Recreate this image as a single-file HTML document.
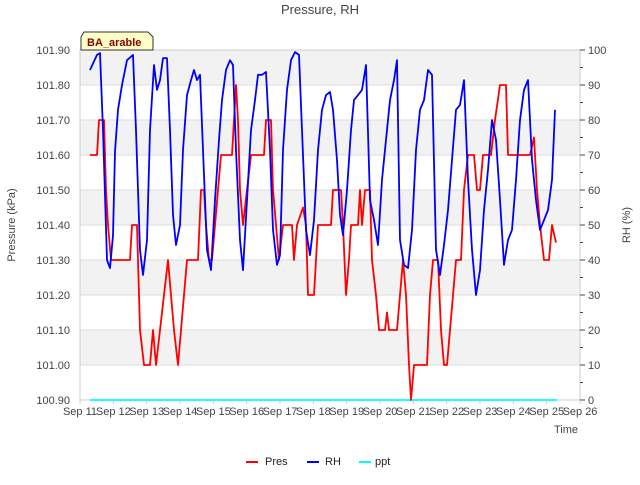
<!DOCTYPE html>
<html><head><meta charset="utf-8"><style>
body{margin:0;background:#fff;font-family:"Liberation Sans","DejaVu Sans",sans-serif}
</style></head><body>
<svg width="640" height="480" viewBox="0 0 640 480" xmlns="http://www.w3.org/2000/svg" font-family="Liberation Sans, DejaVu Sans, sans-serif">
<rect width="640" height="480" fill="#fff"/>
<text x="320" y="14" text-anchor="middle" font-size="13" fill="#444">Pressure, RH</text>
<g id="bands"></g>
<g id="grid"></g>
<rect x="80" y="50" width="500" height="350" fill="none" stroke="#ccc"/>
<g id="axes" font-size="11" fill="#444"></g>
<g id="series"></g>
<text x="15" y="225" transform="rotate(-90 15 225)" text-anchor="middle" font-size="11" fill="#444">Pressure (kPa)</text>
<text x="630" y="225" transform="rotate(-90 630 225)" text-anchor="middle" font-size="11" fill="#444">RH (%)</text>
<text x="578" y="433" text-anchor="end" font-size="11" fill="#444">Time</text>
<g>
<path d="M84,32 L148,32 L153,37 L153,50 L81,50 L81,37 Z" fill="#ffffc8" stroke="#333"/>
<text x="87" y="46" font-size="11" font-weight="bold" fill="#8b0000">BA_arable</text>
</g>
<g font-size="11" fill="#222">
<g><line x1="246" y1="462" x2="258" y2="462" stroke="red" stroke-width="2"/><text x="265" y="465">Pres</text></g>
<g><line x1="307" y1="462" x2="319" y2="462" stroke="blue" stroke-width="2"/><text x="325" y="465">RH</text></g>
<g><line x1="359" y1="462" x2="371" y2="462" stroke="cyan" stroke-width="2"/><text x="375" y="465">ppt</text></g>
</g>
</svg>
<script>
const presDays=[11.30,11.51,11.57,11.72,11.78,11.84,11.93,12.50,12.56,12.71,12.80,12.92,13.10,13.19,13.28,13.40,13.52,13.64,13.73,13.82,13.94,14.03,14.12,14.21,14.54,14.63,14.72,14.78,14.87,14.96,15.05,15.14,15.23,15.56,15.62,15.68,15.74,15.80,15.89,16.01,16.13,16.52,16.58,16.73,16.79,16.88,16.97,17.09,17.36,17.42,17.51,17.69,17.78,17.84,18.02,18.14,18.53,18.59,18.83,18.89,18.98,19.07,19.13,19.34,19.40,19.46,19.55,19.70,19.76,19.88,19.97,20.15,20.21,20.27,20.51,20.60,20.69,20.78,20.87,20.93,21.02,21.41,21.50,21.59,21.74,21.83,21.92,22.01,22.10,22.19,22.28,22.43,22.52,22.64,22.82,22.91,23.00,23.09,23.33,23.45,23.60,23.78,23.84,24.50,24.62,24.71,24.80,24.92,25.07,25.16,25.28];
const presVals=[101.6,101.6,101.7,101.7,101.5,101.4,101.3,101.3,101.4,101.4,101.1,101.0,101.0,101.1,101.0,101.1,101.2,101.3,101.2,101.1,101.0,101.1,101.2,101.3,101.3,101.5,101.5,101.4,101.3,101.3,101.4,101.5,101.6,101.6,101.7,101.8,101.7,101.5,101.4,101.5,101.6,101.6,101.7,101.7,101.5,101.4,101.3,101.4,101.4,101.3,101.4,101.45,101.4,101.2,101.2,101.4,101.4,101.5,101.5,101.4,101.2,101.3,101.4,101.4,101.5,101.4,101.5,101.5,101.3,101.2,101.1,101.1,101.15,101.1,101.1,101.2,101.3,101.2,101.0,100.9,101.0,101.0,101.2,101.3,101.3,101.1,101.0,101.0,101.1,101.2,101.3,101.3,101.5,101.6,101.6,101.5,101.5,101.6,101.6,101.7,101.8,101.8,101.6,101.6,101.65,101.5,101.4,101.3,101.3,101.4,101.35];
const rhDays=[11.30,11.51,11.60,11.69,11.81,11.90,11.99,12.05,12.14,12.26,12.41,12.59,12.68,12.80,12.89,13.01,13.10,13.22,13.31,13.40,13.49,13.61,13.70,13.79,13.88,14.00,14.09,14.21,14.33,14.42,14.51,14.60,14.69,14.81,14.93,15.05,15.17,15.26,15.38,15.50,15.59,15.68,15.80,15.89,16.01,16.13,16.25,16.34,16.46,16.58,16.70,16.79,16.91,17.00,17.09,17.21,17.33,17.45,17.57,17.66,17.78,17.90,18.02,18.14,18.26,18.38,18.50,18.59,18.71,18.80,18.89,19.01,19.13,19.22,19.34,19.46,19.58,19.70,19.82,19.94,20.06,20.18,20.30,20.42,20.51,20.60,20.72,20.84,20.96,21.08,21.20,21.32,21.44,21.56,21.68,21.80,21.92,22.04,22.16,22.28,22.40,22.52,22.64,22.76,22.88,23.00,23.12,23.24,23.36,23.48,23.60,23.72,23.84,23.96,24.08,24.20,24.32,24.44,24.56,24.68,24.80,24.92,25.04,25.16,25.25];
const rhVals=[94.3,98.6,99.1,77.1,40,37.7,47,71,82.9,90,97.1,98.6,77.1,42.9,35.7,45.7,77.1,95.7,88.6,91.4,97.7,97.7,77.1,52.9,44.3,50,71.4,87.1,91.4,94.3,91.4,92.9,71.4,42.9,37.1,57.1,74.3,85.7,94.3,97.1,95.7,71.4,45.7,37.1,57.1,77.1,85.7,92.9,92.9,93.7,71.4,48.6,38.6,41.4,71.4,88.6,97.1,99.4,98.6,77.1,48.6,41.4,51.4,71.4,82.9,87.1,88,82.9,68.6,52.9,47.1,60,77.1,85.7,87.1,88.6,95.7,57.1,51.4,44.3,62.9,74.3,85.7,91.4,97.1,45.7,38.6,37.7,48.6,71.4,82.9,85.7,94.3,92.9,42.9,35.7,44.3,54.3,68.6,82.9,84.3,91.4,62.9,42.9,30,37.1,54.3,65.7,80,74.3,57.1,38.6,45.7,48.6,62.9,80,88.6,91.4,68.6,57.1,48.6,51.4,54.3,62.9,82.9];
const pptDays=[11.3,14.5,16.5,18.4,19.2,24.5,25.3];
const pptVals=[0,0,0,0,0,0,0];
const leftTicks=["100.90","101.00","101.10","101.20","101.30","101.40","101.50","101.60","101.70","101.80","101.90"];
const rightTicks=[0,10,20,30,40,50,60,70,80,90,100];
const xTickDays=[11,12,13,14,15,16,17,18,19,20,21,22,23,24,25,26];

const NS="http://www.w3.org/2000/svg";
const X0=80,X1=580,Y0=400,Y1=50;
const xs=d=>X0+(d-11)/15*(X1-X0);
const yp=p=>Y0-(p-100.9)/1.0*(Y0-Y1);
const yr=r=>Y0-r/100*(Y0-Y1);
function mk(tag,attrs,parent){const e=document.createElementNS(NS,tag);for(const k in attrs)e.setAttribute(k,attrs[k]);parent.appendChild(e);return e;}
const bands=document.getElementById('bands'),grid=document.getElementById('grid'),axes=document.getElementById('axes'),series=document.getElementById('series');
leftTicks.forEach((t,i)=>{
  const v=parseFloat(t),y=yp(v);
  if(i%2===1&&i<leftTicks.length-1){const b=mk('rect',{x:X0,y:yp(v+0.1),width:X1-X0,height:y-yp(v+0.1),fill:'#f2f2f2'},bands);
  
  }
  const g=mk('line',{x1:X0,x2:X1,y1:y,y2:y,stroke:'#ddd'},grid);
  
  
  const tx=mk('text',{x:70,y:y+4,'text-anchor':'end'},axes);tx.textContent=t;
  
  
});
rightTicks.forEach(r=>{
  const y=yr(r);
  mk('line',{x1:X1,x2:X1+5,y1:y,y2:y,stroke:'#444'},axes);
  if(r<100)mk('line',{x1:X1,x2:X1+3,y1:yr(r+5),y2:yr(r+5),stroke:'#444'},axes);
  const tx=mk('text',{x:588,y:y+4},axes);tx.textContent=r;
  
  
});
xTickDays.forEach(d=>{
  const x=xs(d);
  mk('line',{x1:x,x2:x,y1:Y0,y2:Y0+4,stroke:'#ccc'},axes);
  const tx=mk('text',{x:x,y:Y0+15,'text-anchor':'middle'},axes);tx.textContent='Sep '+d;
  
  
});
function line(days,vals,yf,color,name){
  const pts=days.map((d,i)=>xs(d).toFixed(1)+','+yf(vals[i]).toFixed(1)).join(' ');
  const p=mk('polyline',{points:pts,fill:'none',stroke:color,'stroke-width':1.8,'stroke-linejoin':'round'},series);
  
  
}
line(pptDays,pptVals,yr,'cyan','ppt-line');
line(presDays,presVals,yp,'red','pres-line');
line(rhDays,rhVals,yr,'blue','rh-line');
</script>
</body></html>
